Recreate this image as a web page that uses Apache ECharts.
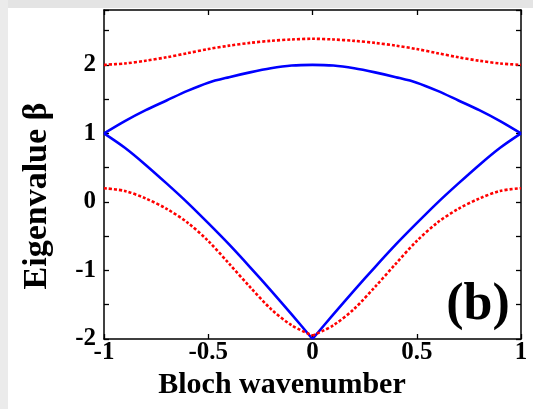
<!DOCTYPE html>
<html>
<head>
<meta charset="utf-8">
<script src="https://cdn.jsdelivr.net/npm/echarts@6/dist/echarts.min.js"></script>
<style>
html,body{margin:0;padding:0;background:#fff;}
#c{width:533px;height:409px;}
</style>
</head>
<body>
<div id="c"></div>
<script>
// Bloch wavenumber samples
const kValues = [-1,-0.9,-0.8,-0.7,-0.6,-0.5,-0.4,-0.3,-0.2,-0.1,0,0.1,0.2,0.3,0.4,0.5,0.6,0.7,0.8,0.9,1];
// Blue solid branches
const blueUpper = [1.0,1.18,1.34,1.48,1.62,1.74,1.82,1.89,1.95,1.99,2.0,1.99,1.95,1.89,1.82,1.74,1.62,1.48,1.34,1.18,1.0];
const blueLower = [1.0,0.79,0.54,0.27,-0.01,-0.31,-0.62,-0.95,-1.29,-1.64,-2.0,-1.64,-1.29,-0.95,-0.62,-0.31,-0.01,0.27,0.54,0.79,1.0];
// Red dotted branches
const redUpper = [2.0,2.02,2.06,2.11,2.17,2.23,2.28,2.32,2.35,2.37,2.38,2.37,2.35,2.32,2.28,2.23,2.17,2.11,2.06,2.02,2.0];
const redLower = [0.2,0.16,0.05,-0.10,-0.30,-0.57,-0.90,-1.24,-1.56,-1.80,-1.95,-1.80,-1.56,-1.24,-0.90,-0.57,-0.30,-0.10,0.05,0.16,0.2];
const xTicks = [-1,-0.5,0,0.5,1];
const yTickLabels = [-2,-1,0,1,2];
const xLabel = 'Bloch wavenumber';
const yLabel = 'Eigenvalue β';
const panelLabel = '(b)';

const mid = kValues.indexOf(0);
function pairs(ys, from, to){
  const out=[];
  for(let i=from;i<=to;i++) out.push([kValues[i], ys[i]]);
  return out;
}
const FONT = '"Liberation Serif","Times New Roman",serif';
const blueStyle = {color:'#0000ff', width:2.6};
const redStyle = {color:'#ff0000', width:2.6, type:[3,2]};
function line(data, style, smooth){
  return {type:'line', data:data, showSymbol:false, symbol:'none', smooth:smooth,
    lineStyle:style, itemStyle:{color:style.color}, z:3, animation:false};
}
const series = [
  line(pairs(blueUpper,0,kValues.length-1), blueStyle, 0.3),
  line(pairs(blueLower,0,mid), blueStyle, 0.3),
  line(pairs(blueLower,mid,kValues.length-1), blueStyle, 0.3),
  line(pairs(redUpper,0,kValues.length-1), redStyle, 0.3),
  line(pairs(redLower,0,mid), redStyle, 0.3),
  line(pairs(redLower,mid,kValues.length-1), redStyle, 0.3)
];

const axisLine = {show:true, onZero:false, lineStyle:{color:'#000', width:1.5}};
const axisTick = {show:true, inside:true, length:5, lineStyle:{color:'#000', width:1.3}};
const labelStyle = {fontFamily:FONT, fontWeight:'bold', fontSize:25, color:'#000'};

const chart = echarts.init(document.getElementById('c'), null, {renderer:'canvas'});
chart.setOption({
  animation:false,
  backgroundColor:'#ffffff',
  grid:{left:104, right:12, top:10, bottom:70, containLabel:false},
  xAxis:[
    {type:'value', min:-1, max:1, interval:0.5, axisLine:axisLine, axisTick:axisTick, splitLine:{show:false},
     axisLabel:Object.assign({margin:1, formatter:v=> xTicks.indexOf(v)>=0 ? String(v) : ''}, labelStyle)},
    {type:'value', position:'top', min:-1, max:1, interval:0.5, axisLine:axisLine, axisTick:axisTick,
     splitLine:{show:false}, axisLabel:{show:false}}
  ],
  yAxis:[
    {type:'value', min:-2, max:2.8, interval:0.5, axisLine:axisLine, axisTick:axisTick, splitLine:{show:false},
     axisLabel:Object.assign({margin:8, formatter:v=> yTickLabels.indexOf(v)>=0 ? String(v) : ''}, labelStyle)},
    {type:'value', position:'right', min:-2, max:2.8, interval:0.5, axisLine:axisLine, axisTick:axisTick,
     splitLine:{show:false}, axisLabel:{show:false}}
  ],
  series: series,
  graphic:[
    {type:'rect', shape:{x:0,y:0,width:533,height:8}, style:{fill:'#e4e4e4'}, z:-10, silent:true},
    {type:'rect', shape:{x:0,y:0,width:8,height:409}, style:{fill:'#ebebeb'}, z:-10, silent:true},
    {type:'text', x:282, y:385, style:{text:xLabel, font:'bold 30px '+FONT, fill:'#000', textAlign:'center', textVerticalAlign:'middle'}},
    {type:'text', x:37, y:196, rotation:Math.PI/2, style:{text:yLabel, font:'bold 34px '+FONT, fill:'#000', textAlign:'center', textVerticalAlign:'middle'}},
    {type:'text', x:478, y:306, style:{text:panelLabel, font:'bold 52px '+FONT, fill:'#000', textAlign:'center', textVerticalAlign:'middle'}, z:10}
  ]
});
</script>
</body>
</html>
